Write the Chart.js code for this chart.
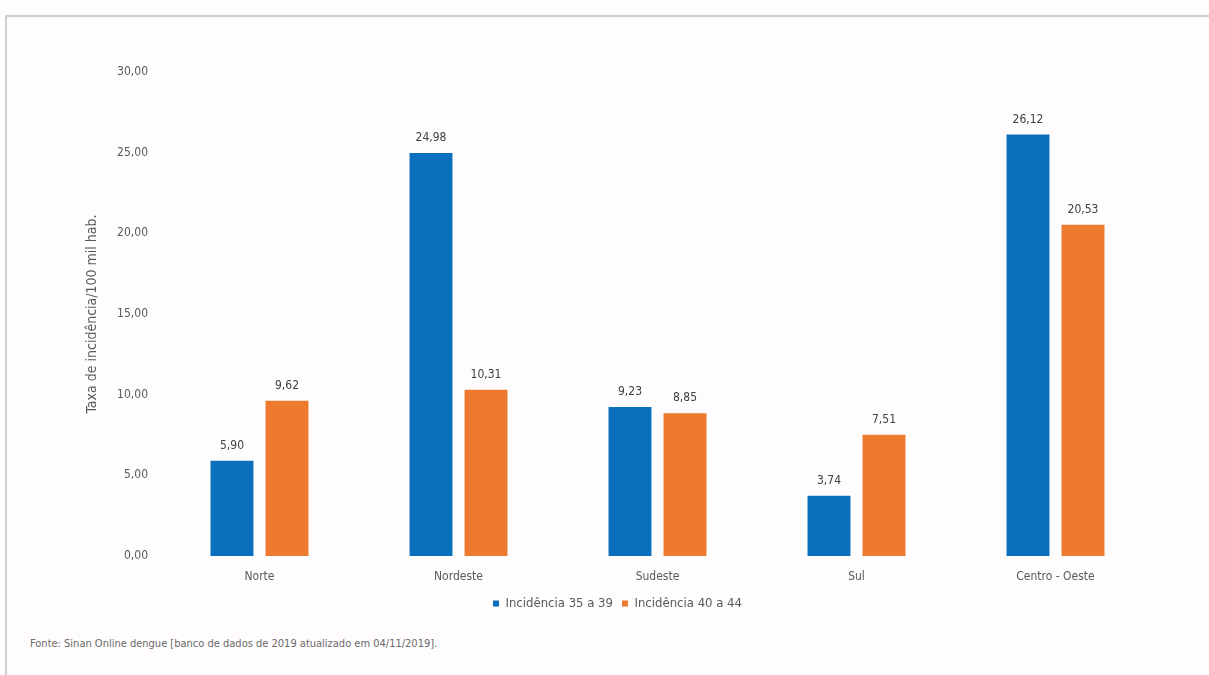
<!DOCTYPE html>
<html lang="pt-BR">
<head>
<meta charset="utf-8">
<title>Taxa de incidência por região</title>
<script src="https://cdn.jsdelivr.net/npm/chart.js@4/dist/chart.umd.min.js"></script>
<style>
  html, body {
    margin: 0;
    padding: 0;
    background: #fefcfc;
    width: 1209px;
    height: 675px;
    overflow: hidden;
    font-family: "Liberation Sans Narrow", "DejaVu Sans Condensed", sans-serif;
  }
  #frame {
    position: absolute;
    left: 5px;
    top: 15px;
    width: 1220px;
    height: 680px;
    border-left: 2px solid #cfcfcf;
    border-top: 2px solid #cfcfcf;
  }
  #chartBox {
    position: absolute;
    left: 80px;
    top: 50px;
    width: 1085px;
    height: 570px;
  }
  #fonte {
    position: absolute;
    left: 30px;
    top: 637px;
    font-size: 11px;
    color: #6a6a6a;
  }
</style>
</head>
<body>
<div id="frame"></div>
<div id="chartBox"><canvas id="grafico"></canvas></div>
<div id="fonte">Fonte: Sinan Online dengue [banco de dados de 2019 atualizado em 04/11/2019].</div>

<script>
const regioes = ['Norte', 'Nordeste', 'Sudeste', 'Sul', 'Centro - Oeste'];
const incidencia35a39 = [5.90, 24.98, 9.23, 3.74, 26.12];
const incidencia40a44 = [9.62, 10.31, 8.85, 7.51, 20.53];
const yTicks = [0, 5, 10, 15, 20, 25, 30];

const fontFamily = '"Liberation Sans Narrow", "DejaVu Sans Condensed", sans-serif';
const textColor = '#5a5a5a';

const fmt = v => v.toFixed(2).replace('.', ',');

// value labels above each bar
const valueLabels = {
  id: 'valueLabels',
  afterDatasetsDraw(chart) {
    const ctx = chart.ctx;
    ctx.save();
    ctx.font = `12px ${fontFamily}`;
    ctx.fillStyle = '#404040';
    ctx.textAlign = 'center';
    ctx.textBaseline = 'bottom';
    chart.data.datasets.forEach((ds, i) => {
      const meta = chart.getDatasetMeta(i);
      meta.data.forEach((bar, j) => {
        ctx.fillText(fmt(ds.data[j]), bar.x, bar.y - 9);
      });
    });
    ctx.restore();
  }
};

new Chart(document.getElementById('grafico'), {
  type: 'bar',
  data: {
    labels: regioes,
    datasets: [
      {
        label: 'Incidência 35 a 39',
        data: incidencia35a39,
        backgroundColor: '#0a70bd',
        barPercentage: 0.78,
        categoryPercentage: 0.553
      },
      {
        label: 'Incidência 40 a 44',
        data: incidencia40a44,
        backgroundColor: '#ee7a2f',
        barPercentage: 0.78,
        categoryPercentage: 0.553
      }
    ]
  },
  options: {
    responsive: true,
    maintainAspectRatio: false,
    animation: false,
    layout: {
      padding: { top: 22, right: 10, left: 0, bottom: 0 }
    },
    scales: {
      x: {
        grid: { display: false },
        border: { display: false },
        ticks: {
          color: textColor,
          font: { family: fontFamily, size: 12 },
          padding: 6
        },
        afterFit(scale) { scale.height = 32; }
      },
      y: {
        min: 0,
        max: 30,
        grid: { display: false },
        border: { display: false },
        afterBuildTicks(scale) {
          scale.ticks = yTicks.map(v => ({ value: v }));
        },
        ticks: {
          color: textColor,
          font: { family: fontFamily, size: 12 },
          padding: 4,
          callback: v => fmt(v)
        },
        title: {
          display: true,
          text: 'Taxa de incidência/100 mil hab.',
          color: textColor,
          font: { family: fontFamily, size: 14 },
          padding: 4
        },
        afterFit(scale) { scale.width = 80; }
      }
    },
    plugins: {
      legend: {
        position: 'bottom',
        labels: {
          color: textColor,
          font: { family: fontFamily, size: 13 },
          boxWidth: 6,
          boxHeight: 6,
          padding: 9
        }
      },
      tooltip: { enabled: false }
    }
  },
  plugins: [valueLabels]
});
</script>
</body>
</html>
